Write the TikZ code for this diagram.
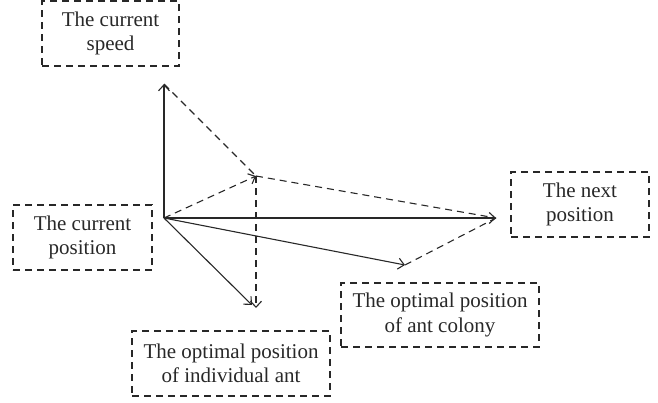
\documentclass[tikz,border=0pt]{standalone}
\usepackage{fontspec}
\setmainfont{Liberation Serif}
\usetikzlibrary{arrows.meta}

\begin{document}
\begin{tikzpicture}[x=1pt,y=1pt,yscale=-1,xscale=1,
  vec/.style={color={rgb, 255:red, 40; green, 40; blue, 40}, line width=1.1pt, -{Straight Barb[length=6pt,width=11pt]}},
  guide/.style={color={rgb, 255:red, 40; green, 40; blue, 40}, line width=1.1pt, dash pattern=on 7pt off 5pt},
  labelbox/.style={draw={rgb, 255:red, 40; green, 40; blue, 40}, line width=1.1pt, dash pattern=on 7pt off 5pt, align=center, inner sep=0pt, text={rgb, 255:red, 40; green, 40; blue, 40}, font=\fontsize{21}{24.5}\selectfont}]
\useasboundingbox (0,0) rectangle (658,402);

%Points of the vectors
\coordinate (cur) at (164,218);
\coordinate (spd) at (164,84);
\coordinate (mid) at (256,176);
\coordinate (indA) at (252,305);
\coordinate (indB) at (256,308);
\coordinate (col) at (405,265);
\coordinate (nxt) at (496,218);

%Straight Lines
\draw [vec] (cur) -- (spd) ;
\draw [vec] (cur) -- (nxt) ;
\draw [vec] (cur) -- (col) ;
\draw [vec] (cur) -- (indA) ;
%Dashed Lines
\draw [guide] (spd) -- (mid) ;
\draw [guide,-{Straight Barb[length=6pt,width=11pt]}] (cur) -- (mid) ;
\draw [guide,-{Straight Barb[length=6pt,width=11pt]}] (mid) -- (indB) ;
\draw [guide] (mid) -- (nxt) ;
\draw [guide] (col) -- (nxt) ;

% Text Node
\node [labelbox, minimum width=137pt, minimum height=65pt] (speedbox) at (110.5,33.5) {The current\\speed};
% Text Node
\node [labelbox, minimum width=139pt, minimum height=65pt] (posbox) at (82.5,237.5) {The current\\position};
% Text Node
\node [labelbox, minimum width=138pt, minimum height=65pt] (nextbox) at (580,204.5) {The next\\position};
% Text Node
\node [labelbox, minimum width=198pt, minimum height=64pt] (colonybox) at (440,315) {The optimal position\\of ant colony};
% Text Node
\node [labelbox, minimum width=198pt, minimum height=65pt] (antbox) at (231,363.5) {The optimal position\\of individual ant};

\end{tikzpicture}
\end{document}
